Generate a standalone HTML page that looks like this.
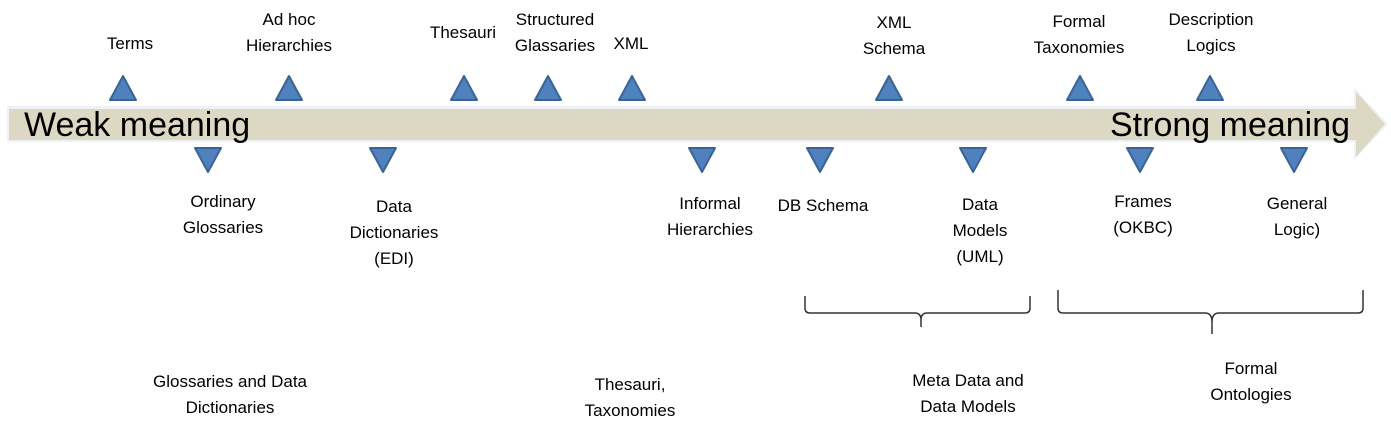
<!DOCTYPE html>
<html><head><meta charset="utf-8"><style>
body{margin:0;width:1391px;height:437px;background:#fff;overflow:hidden;position:relative;font-family:"Liberation Sans",sans-serif}
.t{position:absolute;font-size:17px;color:#000;text-align:center;line-height:26px;transform:translateX(-50%);white-space:nowrap}
svg{position:absolute;left:0;top:0}
</style></head><body>
<svg width="1391" height="437">
<polygon points="7,106 1354,106 1354,88 1388,124 1354,160 1354,142 7,142" fill="#eef2f8"/>
<polygon points="9,109 1356,109 1356,92 1385,124 1356,157 1356,140 9,140" fill="#ddd8c3"/>
<g fill="#4f81bd" stroke="#3a6496" stroke-width="2" stroke-linejoin="round">
<polygon points="110,100 136,100 123,76"/>
<polygon points="276,100 302,100 289,76"/>
<polygon points="451,100 477,100 464,76"/>
<polygon points="535,100 561,100 548,76"/>
<polygon points="619,100 645,100 632,76"/>
<polygon points="876,100 902,100 889,76"/>
<polygon points="1067,100 1093,100 1080,76"/>
<polygon points="1197,100 1223,100 1210,76"/>
<polygon points="195,148 221,148 208,172"/>
<polygon points="370,148 396,148 383,172"/>
<polygon points="689,148 715,148 702,172"/>
<polygon points="807,148 833,148 820,172"/>
<polygon points="960,148 986,148 973,172"/>
<polygon points="1127,148 1153,148 1140,172"/>
<polygon points="1281,148 1307,148 1294,172"/>
</g>
<g fill="none" stroke="#333" stroke-width="1.5">
<path d="M805,296 V308 Q805,313 810,313 H915 Q921,313 921,320 V327 M921,320 Q921,313 927,313 H1025 Q1030,313 1030,308 V296"/>
<path d="M1058,290 V308 Q1058,313 1063,313 H1205 Q1212,313 1212,322 V334 M1212,322 Q1212,313 1219,313 H1358 Q1363,313 1363,308 V290"/>
</g>
<text x="24" y="136" font-family="Liberation Sans, sans-serif" font-size="34">Weak meaning</text>
<text x="1110" y="136" font-family="Liberation Sans, sans-serif" font-size="34">Strong meaning</text>
</svg>
<div class="t" style="left:130px;top:31px">Terms</div>
<div class="t" style="left:289px;top:7px">Ad hoc<br>Hierarchies</div>
<div class="t" style="left:463px;top:20px">Thesauri</div>
<div class="t" style="left:555px;top:7px">Structured<br>Glassaries</div>
<div class="t" style="left:631px;top:31px">XML</div>
<div class="t" style="left:894px;top:10px">XML<br>Schema</div>
<div class="t" style="left:1079px;top:9px">Formal<br>Taxonomies</div>
<div class="t" style="left:1211px;top:7px">Description<br>Logics</div>
<div class="t" style="left:223px;top:189px">Ordinary<br>Glossaries</div>
<div class="t" style="left:394px;top:194px">Data<br>Dictionaries<br>(EDI)</div>
<div class="t" style="left:710px;top:191px">Informal<br>Hierarchies</div>
<div class="t" style="left:823px;top:193px">DB Schema</div>
<div class="t" style="left:980px;top:192px">Data<br>Models<br>(UML)</div>
<div class="t" style="left:1143px;top:189px">Frames<br>(OKBC)</div>
<div class="t" style="left:1297px;top:191px">General<br>Logic)</div>
<div class="t" style="left:230px;top:369px">Glossaries and Data<br>Dictionaries</div>
<div class="t" style="left:630px;top:372px">Thesauri,<br>Taxonomies</div>
<div class="t" style="left:968px;top:368px">Meta Data and<br>Data Models</div>
<div class="t" style="left:1251px;top:356px">Formal<br>Ontologies</div>
</body></html>
